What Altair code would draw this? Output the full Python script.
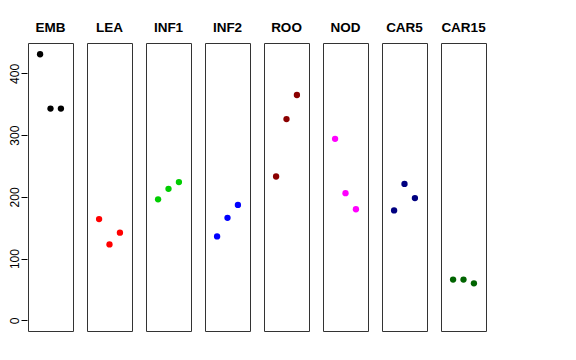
import altair as alt
import pandas as pd

tissues = ["EMB", "LEA", "INF1", "INF2", "ROO", "NOD", "CAR5", "CAR15"]
colors = ["#000000", "#FF0000", "#00CD00", "#0000FF", "#8B0000", "#FF00FF", "#000080", "#006400"]
positions = [1, 2, 3]
values = {
    "EMB": [431, 343, 343],
    "LEA": [164, 123, 142],
    "INF1": [196, 213, 224],
    "INF2": [136, 166, 187],
    "ROO": [233, 326, 365],
    "NOD": [294, 206, 180],
    "CAR5": [178, 221, 198],
    "CAR15": [66, 66, 60],
}
y_ticks = [0, 100, 200, 300, 400]

rows = []
for t in tissues:
    for p, v in zip(positions, values[t]):
        rows.append({"tissue": t, "pos": p, "value": v})
df = pd.DataFrame(rows)

ymax = 432
ypad = ymax * 0.04

base = alt.Chart(df).mark_circle(size=40, opacity=1).encode(
    x=alt.X("pos:Q", scale=alt.Scale(domain=[-0.16, 4.16], nice=False, zero=False), axis=None),
    y=alt.Y(
        "value:Q",
        scale=alt.Scale(domain=[-ypad, ymax + ypad], nice=False, zero=False),
        axis=alt.Axis(
            values=y_ticks,
            title=None,
            grid=False,
            domain=False,
            tickSize=6,
            tickColor="black",
            labelAngle=270,
            labelAlign="center",
            labelBaseline="alphabetic",
            labelPadding=3,
            labelFont="Liberation Sans",
            labelFontSize=12,
            labelColor="black",
        ),
    ),
    color=alt.Color("tissue:N", scale=alt.Scale(domain=tissues, range=colors), legend=None),
).properties(width=45, height=288)

chart = base.facet(
    column=alt.Column(
        "tissue:N",
        sort=tissues,
        header=alt.Header(
            title=None,
            labelFont="Liberation Sans",
            labelFontSize=13.5,
            labelFontWeight="bold",
            labelColor="black",
            labelBaseline="alphabetic",
            labelPadding=-3,
        ),
    ),
    spacing=12,
).properties(
    background="white",
    padding={"left": 0, "top": 12, "right": 5, "bottom": 5},
).configure_view(stroke="#333333", strokeWidth=1)

chart.save("out.html", embed_options={"renderer": "svg", "actions": False})
